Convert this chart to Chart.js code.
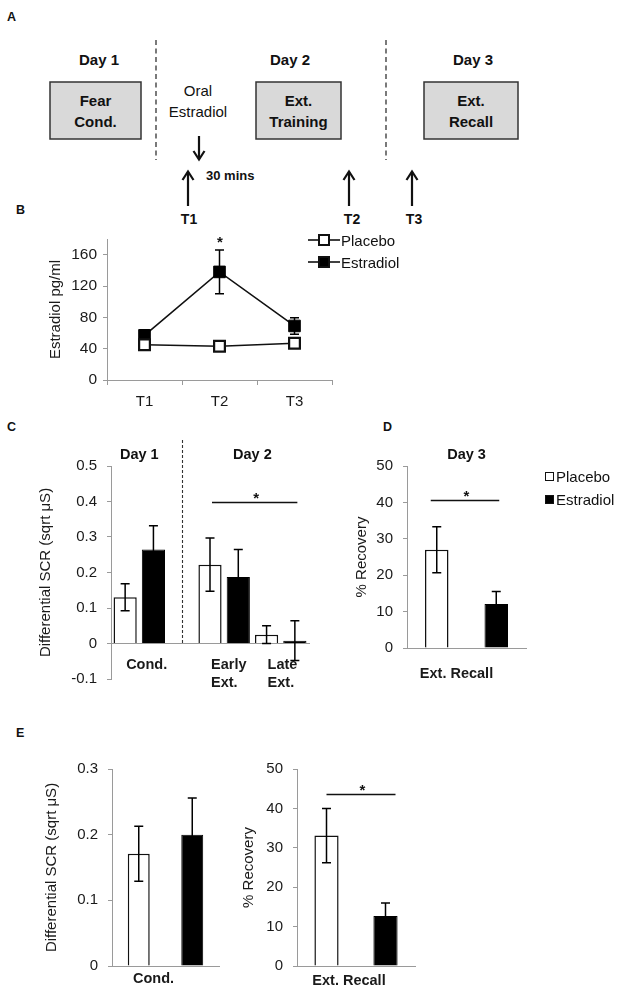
<!DOCTYPE html>
<html>
<head>
<meta charset="utf-8">
<script src="https://cdn.jsdelivr.net/npm/chart.js@4.4.1/dist/chart.umd.min.js"></script>
<style>
html,body{margin:0;padding:0;background:#fff;}
body{width:620px;height:993px;position:relative;overflow:hidden;font-family:"Liberation Sans",Arial,sans-serif;color:#111;}
canvas{position:absolute;}
.plabel{position:absolute;font-weight:bold;font-size:12.5px;line-height:1;}
.leg{position:absolute;font-size:15px;display:flex;align-items:center;white-space:nowrap;height:18px;color:#111;}
</style>
</head>
<body>
<svg style="position:absolute;left:0;top:0" width="620" height="235" font-family="'Liberation Sans', Arial, sans-serif" fill="#111">
  <line x1="156" y1="40" x2="156" y2="160" stroke="#333" stroke-width="1.3" stroke-dasharray="5,3.5"/>
  <line x1="386" y1="40" x2="386" y2="160" stroke="#333" stroke-width="1.3" stroke-dasharray="5,3.5"/>
  <g font-weight="bold" font-size="15" text-anchor="middle">
    <text x="99" y="64.5">Day 1</text>
    <text x="290" y="64.5">Day 2</text>
    <text x="473" y="64.5">Day 3</text>
  </g>
  <rect x="50" y="82" width="91" height="57" fill="#d9d9d9" stroke="#333" stroke-width="1.5"/>
  <rect x="256" y="82" width="85" height="57" fill="#d9d9d9" stroke="#333" stroke-width="1.5"/>
  <rect x="424" y="82" width="94" height="57" fill="#d9d9d9" stroke="#333" stroke-width="1.5"/>
  <g font-weight="bold" font-size="15" text-anchor="middle">
    <text x="95.5" y="106">Fear</text><text x="95.5" y="127">Cond.</text>
    <text x="298.5" y="106">Ext.</text><text x="298.5" y="127">Training</text>
    <text x="471" y="106">Ext.</text><text x="471" y="127">Recall</text>
  </g>
  <g font-size="15" text-anchor="middle">
    <text x="198" y="96">Oral</text><text x="198" y="117">Estradiol</text>
  </g>
  <g stroke="#111" stroke-width="2.2" fill="none">
    <line x1="199" y1="136" x2="199" y2="159"/>
    <polyline points="193.5,151 199,159.5 204.5,151"/>
    <line x1="188" y1="206" x2="188" y2="172"/>
    <polyline points="182.5,180 188,171.5 193.5,180"/>
    <line x1="349" y1="206" x2="349" y2="172"/>
    <polyline points="343.5,180 349,171.5 354.5,180"/>
    <line x1="412" y1="206" x2="412" y2="172"/>
    <polyline points="406.5,180 412,171.5 417.5,180"/>
  </g>
  <text x="206" y="180" font-weight="bold" font-size="13">30 mins</text>
  <g font-weight="bold" font-size="14" text-anchor="middle">
    <text x="189" y="224">T1</text><text x="352" y="224">T2</text><text x="414" y="224">T3</text>
  </g>
</svg>

<div class="plabel" style="left:7px;top:11px;">A</div>
<div class="plabel" style="left:16px;top:204px;">B</div>
<div class="plabel" style="left:7px;top:421px;">C</div>
<div class="plabel" style="left:383px;top:421px;">D</div>
<div class="plabel" style="left:16px;top:727px;">E</div>

<canvas id="chartB" width="420" height="220" style="left:0;top:200px;"></canvas>
<canvas id="chartC" width="330" height="280" style="left:0;top:420px;"></canvas>
<canvas id="chartD" width="290" height="270" style="left:330px;top:420px;"></canvas>
<canvas id="chartE1" width="240" height="253" style="left:0;top:740px;"></canvas>
<canvas id="chartE2" width="200" height="253" style="left:240px;top:740px;"></canvas>

<div id="legendB"></div>
<div id="legendD"></div>

<script>
// ---------------- DATA ----------------
const seriesNames = ['Placebo', 'Estradiol'];

// Panel B: serum estradiol (pg/ml)
const timepointsB = ['T1', 'T2', 'T3'];
const placeboB = [45, 43, 47];
const estradiolB = [57, 138, 69];
const estradiolErrB = [7, 28, 10.5];
const yTicksB = [0, 40, 80, 120, 160];
const yTickLabelsB = ['0', '40', '80', '120', '160'];

// Panel C: differential SCR
const categoriesC = ['Cond.', 'Early Ext.', 'Late Ext.'];
const daysC = ['Day 1', 'Day 2', 'Day 2'];
const placeboC = [0.13, 0.222, 0.025];
const placeboErrC = [0.038, 0.075, 0.025];
const estradiolC = [0.265, 0.187, 0.008];
const estradiolErrC = [0.067, 0.078, 0.056];
const yTicksC = [-0.1, 0, 0.1, 0.2, 0.3, 0.4, 0.5];
const yTickLabelsC = ['-0.1', '0', '0.1', '0.2', '0.3', '0.4', '0.5'];

// Panel D: % recovery, Day 3
const categoriesD = ['Ext. Recall'];
const placeboD = [27];
const placeboErrD = [6.3];
const estradiolD = [12.1];
const estradiolErrD = [3.4];
const yTicksD = [0, 10, 20, 30, 40, 50];
const yTickLabelsD = ['0', '10', '20', '30', '40', '50'];

// Panel E (left): differential SCR, conditioning
const categoriesE1 = ['Cond.'];
const placeboE1 = [0.171];
const placeboErrE1 = [0.042];
const estradiolE1 = [0.2];
const estradiolErrE1 = [0.056];
const yTicksE1 = [0, 0.1, 0.2, 0.3];
const yTickLabelsE1 = ['0', '0.1', '0.2', '0.3'];

// Panel E (right): % recovery
const categoriesE2 = ['Ext. Recall'];
const placeboE2 = [33.1];
const placeboErrE2 = [6.9];
const estradiolE2 = [12.7];
const estradiolErrE2 = [3.3];
const yTicksE2 = [0, 10, 20, 30, 40, 50];
const yTickLabelsE2 = ['0', '10', '20', '30', '40', '50'];

// ---------------- STYLE / HELPERS ----------------
const AX = '#9a9a9a';
const TXT = '#1a1a1a';
const INK = '#000';
Chart.defaults.font.family = "'Liberation Sans', Arial, Helvetica, sans-serif";
Chart.defaults.color = TXT;

function drawErr(chart, o) {
  const ctx = chart.ctx, ys = chart.scales.y;
  chart.data.datasets.forEach((ds, di) => {
    if (!ds.errors) return;
    const meta = chart.getDatasetMeta(di);
    meta.data.forEach((el, i) => {
      const v = ds.data[i], e = ds.errors[i];
      if (v == null || e == null) return;
      const x = el.x, t = ys.getPixelForValue(v + e), b = ys.getPixelForValue(v - e), c = 4.5;
      ctx.save();
      ctx.strokeStyle = INK; ctx.lineWidth = 1.5;
      ctx.beginPath();
      ctx.moveTo(x, t); ctx.lineTo(x, b);
      ctx.moveTo(x - c, t); ctx.lineTo(x + c, t);
      ctx.moveTo(x - c, b); ctx.lineTo(x + c, b);
      ctx.stroke();
      ctx.restore();
    });
  });
}
const errorBars = {
  id: 'errorBars',
  beforeDatasetsDraw(chart, args, o) { if (o.behind) drawErr(chart, o); },
  afterDatasetsDraw(chart, args, o) { if (!o.behind) drawErr(chart, o); }
};

function barX(chart, series, cat) {
  const di = chart.data.datasets.findIndex(d => d.label === series);
  const ds = chart.data.datasets[di];
  const idx = ds.cats.findIndex((c, i) => c === cat && ds.data[i] != null);
  return chart.getDatasetMeta(di).data[idx].x;
}
function makeSig(sig) {
  return {
    id: 'sigBar',
    afterDatasetsDraw(chart) {
      const ctx = chart.ctx, ys = chart.scales.y;
      const x1 = barX(chart, sig.from[1], sig.from[0]) + sig.padL;
      const x2 = barX(chart, sig.to[1], sig.to[0]) + sig.padR;
      const y = Math.round(ys.getPixelForValue(sig.level)) + 0.5;
      ctx.save();
      ctx.strokeStyle = '#111'; ctx.lineWidth = 1.6;
      ctx.beginPath(); ctx.moveTo(x1, y); ctx.lineTo(x2, y); ctx.stroke();
      ctx.fillStyle = '#111';
      ctx.font = "bold 15px 'Liberation Sans', Arial, sans-serif";
      ctx.textAlign = 'center'; ctx.textBaseline = 'alphabetic';
      ctx.fillText('*', (x1 + x2) / 2 + 1.5, y + 0.5);
      ctx.restore();
    }
  };
}
function makeHeads(groups, divider) {
  return {
    id: 'heads',
    afterDraw(chart) {
      const ctx = chart.ctx, ca = chart.chartArea;
      ctx.save();
      ctx.fillStyle = '#111';
      ctx.font = "bold 14.5px 'Liberation Sans', Arial, sans-serif";
      ctx.textAlign = 'center'; ctx.textBaseline = 'middle';
      groups.forEach(g => {
        const xs = g.xs(chart);
        ctx.fillText(g.text, (Math.min(...xs) + Math.max(...xs)) / 2, ca.top - 11);
      });
      if (divider) {
        const x = Math.round(divider(chart)) + 0.5;
        ctx.strokeStyle = '#333'; ctx.lineWidth = 1.1; ctx.setLineDash([3, 2]);
        ctx.beginPath(); ctx.moveTo(x, ca.top - 26); ctx.lineTo(x, chart.scales.y.getPixelForValue(0)); ctx.stroke();
      }
      ctx.restore();
    }
  };
}

function yAxis(ticks, labels, min, max, title, titlePad, width, pad, fs) {
  return {
    min: min, max: max,
    afterFit: s => { s.width = width; },
    afterBuildTicks: s => { s.ticks = ticks.map(v => ({ value: v })); },
    ticks: { color: TXT, font: { size: fs || 15 }, padding: pad, callback: (v, i) => labels[i] },
    grid: { drawOnChartArea: false, tickLength: 4, tickColor: AX, color: AX },
    border: { color: AX, width: 1 },
    title: { display: true, text: title, color: TXT, font: { size: 15 }, padding: { top: titlePad, bottom: 0 } }
  };
}
function xCat(height, pad, labelOffset) {
  return {
    type: 'category', offset: true,
    afterFit: s => { s.height = height; },
    grid: { drawOnChartArea: false, drawTicks: false, color: AX },
    border: { color: AX, width: 1 },
    ticks: { color: TXT, font: { size: 14.5, weight: 'bold' }, padding: pad, labelOffset: labelOffset, autoSkip: false, maxRotation: 0 }
  };
}
const whiteBar = { backgroundColor: '#ffffff', borderColor: '#111', borderWidth: 1.5 };
const blackBar = { backgroundColor: '#000', borderColor: '#000', borderWidth: 1 };
const baseOpts = { responsive: false, animation: false, devicePixelRatio: 1, events: [] };

// ---------------- PANEL B ----------------
const chartB = new Chart(document.getElementById('chartB'), {
  type: 'line',
  data: {
    labels: timepointsB,
    datasets: [
      { label: seriesNames[0], data: placeboB, borderColor: '#111', borderWidth: 1.6, tension: 0,
        pointStyle: 'rect', pointRadius: 7.6, pointBackgroundColor: '#fff', pointBorderColor: '#111', pointBorderWidth: 2.2 },
      { label: seriesNames[1], data: estradiolB, errors: estradiolErrB, borderColor: '#111', borderWidth: 1.6, tension: 0,
        pointStyle: 'rect', pointRadius: 8.2, pointBackgroundColor: '#000', pointBorderColor: '#000', pointBorderWidth: 1 }
    ]
  },
  options: Object.assign({}, baseOpts, {
    layout: { padding: { top: 39, right: 88, bottom: 0, left: 0 } },
    scales: {
      x: {
        type: 'category', offset: true,
        afterFit: s => { s.height = 40; },
        grid: { offset: true, drawOnChartArea: false, drawTicks: true, tickLength: 5, color: AX, tickColor: AX },
        border: { color: AX, width: 1 },
        ticks: { color: TXT, font: { size: 15 }, padding: 8 }
      },
      y: yAxis(yTicksB, yTickLabelsB, 0, 180, 'Estradiol pg/ml', 47, 107, 6, 15.5)
    },
    plugins: { legend: { display: false }, tooltip: { enabled: false }, errorBars: { behind: true } }
  }),
  plugins: [errorBars, {
    id: 'starB',
    afterDatasetsDraw(chart) {
      const ds = chart.data.datasets[1];
      const ctx = chart.ctx, ys = chart.scales.y;
      let k = 0;
      ds.data.forEach((v, i) => { if (v > ds.data[k]) k = i; });
      const x = chart.getDatasetMeta(1).data[k].x;
      const y = ys.getPixelForValue(ds.data[k] + ds.errors[k]);
      ctx.save(); ctx.fillStyle = '#111';
      ctx.font = "bold 15px 'Liberation Sans', Arial, sans-serif";
      ctx.textAlign = 'center'; ctx.textBaseline = 'alphabetic';
      ctx.fillText('*', x + 0.5, y - 2.5);
      ctx.restore();
    }
  }]
});

// HTML legend for B built from datasets
(function () {
  const host = document.getElementById('legendB');
  chartB.data.datasets.forEach((ds, i) => {
    const row = document.createElement('div');
    row.className = 'leg';
    row.style.left = '308px';
    row.style.top = (231 + i * 22) + 'px';
    const fill = ds.pointBackgroundColor;
    row.innerHTML = '<svg width="32" height="14" style="display:block"><line x1="0" y1="7" x2="32" y2="7" stroke="#111" stroke-width="1.6"/>' +
      '<rect x="11" y="2" width="10" height="10" fill="' + fill + '" stroke="#111" stroke-width="2"/></svg>' +
      '<span style="margin-left:1px">' + ds.label + '</span>';
    host.appendChild(row);
  });
})();

// ---------------- PANEL C ----------------
const slotsC = [];
categoriesC.forEach((c, i) => {
  if (i > 0 && daysC[i] !== daysC[i - 1]) slotsC.push({ cat: null, series: null, i: -1 });
  seriesNames.forEach(s => slotsC.push({ cat: c, series: s, i: i }));
});
const slotLabelsC = slotsC.map((s, k) => s.cat ? s.cat + ' | ' + s.series : 'gap' + k);
const slotVals = (vals, series) => slotsC.map(s => s.series === series ? vals[s.i] : null);
const gapIndexC = slotsC.findIndex(s => s.cat === null);

new Chart(document.getElementById('chartC'), {
  type: 'bar',
  data: {
    labels: slotLabelsC,
    datasets: [
      Object.assign({ label: seriesNames[0], data: slotVals(placeboC, 'Placebo'), errors: slotVals(placeboErrC, 'Placebo'),
        cats: slotsC.map(s => s.cat) }, whiteBar),
      Object.assign({ label: seriesNames[1], data: slotVals(estradiolC, 'Estradiol'), errors: slotVals(estradiolErrC, 'Estradiol'),
        cats: slotsC.map(s => s.cat) }, blackBar)
    ]
  },
  options: Object.assign({}, baseOpts, {
    layout: { padding: { top: 46, right: 21, bottom: 21, left: 0 } },
    datasets: { bar: { grouped: false, categoryPercentage: 1, barPercentage: 0.82 } },
    scales: {
      x: Object.assign(xCat(0, 13, 0), {
        position: { y: 0 },
        ticks: { color: TXT, font: { size: 14.5, weight: 'bold' }, padding: 13, align: 'start', labelOffset: 1, autoSkip: false, maxRotation: 0,
          callback: (v, i) => slotsC[i].series === seriesNames[0] ? slotsC[i].cat.split(' ') : '' }
      }),
      y: yAxis(yTicksC, yTickLabelsC, -0.1, 0.5, 'Differential SCR (sqrt μS)', 37, 111, 10)
    },
    plugins: { legend: { display: false }, tooltip: { enabled: false }, errorBars: { behind: false } }
  }),
  plugins: [errorBars,
    makeSig({ from: ['Early Ext.', 'Placebo'], to: ['Late Ext.', 'Estradiol'], level: 0.4, padL: 2, padR: 2.5 }),
    makeHeads(
      [...new Set(daysC)].map(d => ({
        text: d,
        xs: chart => slotsC.map((s, k) => (s.cat && daysC[s.i] === d) ? chart.scales.x.getPixelForValue(k) : null).filter(v => v != null)
      })),
      chart => chart.scales.x.getPixelForValue(gapIndexC)
    )]
});

// ---------------- PANEL D ----------------
new Chart(document.getElementById('chartD'), {
  type: 'bar',
  data: {
    labels: categoriesD,
    datasets: [
      Object.assign({ label: seriesNames[0], data: placeboD, errors: placeboErrD, cats: categoriesD }, whiteBar),
      Object.assign({ label: seriesNames[1], data: estradiolD, errors: estradiolErrD, cats: categoriesD }, blackBar)
    ]
  },
  options: Object.assign({}, baseOpts, {
    layout: { padding: { top: 46, right: 94, bottom: 0, left: 0 } },
    datasets: { bar: { categoryPercentage: 1, barPercentage: 0.395 } },
    scales: {
      x: xCat(42, 17, -10),
      y: yAxis(yTicksD, yTickLabelsD, 0, 50, '% Recovery', 23, 77, 10)
    },
    plugins: { legend: { display: false }, tooltip: { enabled: false }, errorBars: { behind: false } }
  }),
  plugins: [errorBars,
    makeSig({ from: ['Ext. Recall', 'Placebo'], to: ['Ext. Recall', 'Estradiol'], level: 40.6, padL: -6, padR: 3 }),
    makeHeads([{ text: 'Day 3', xs: chart => [chart.scales.x.getPixelForValue(0)] }], null)]
});

// HTML legend for D
(function () {
  const host = document.getElementById('legendD');
  [{ t: seriesNames[0], f: '#fff' }, { t: seriesNames[1], f: '#000' }].forEach((it, i) => {
    const row = document.createElement('div');
    row.className = 'leg';
    row.style.left = '545px';
    row.style.top = (467 + i * 23) + 'px';
    row.innerHTML = '<svg width="9" height="9" style="display:block"><rect x="0.5" y="0.5" width="8" height="8" fill="' + it.f + '" stroke="#111" stroke-width="1"/></svg>' +
      '<span style="margin-left:2px">' + it.t + '</span>';
    host.appendChild(row);
  });
})();

// ---------------- PANEL E (left) ----------------
new Chart(document.getElementById('chartE1'), {
  type: 'bar',
  data: {
    labels: categoriesE1,
    datasets: [
      Object.assign({ label: seriesNames[0], data: placeboE1, errors: placeboErrE1, cats: categoriesE1 }, whiteBar),
      Object.assign({ label: seriesNames[1], data: estradiolE1, errors: estradiolErrE1, cats: categoriesE1 }, blackBar)
    ]
  },
  options: Object.assign({}, baseOpts, {
    layout: { padding: { top: 29, right: 21, bottom: 0, left: 0 } },
    datasets: { bar: { categoryPercentage: 1, barPercentage: 0.41 } },
    scales: {
      x: xCat(27, 4, -12),
      y: yAxis(yTicksE1, yTickLabelsE1, 0, 0.3, 'Differential SCR (sqrt μS)', 43, 112, 10)
    },
    plugins: { legend: { display: false }, tooltip: { enabled: false }, errorBars: { behind: false } }
  }),
  plugins: [errorBars]
});

// ---------------- PANEL E (right) ----------------
new Chart(document.getElementById('chartE2'), {
  type: 'bar',
  data: {
    labels: categoriesE2,
    datasets: [
      Object.assign({ label: seriesNames[0], data: placeboE2, errors: placeboErrE2, cats: categoriesE2 }, whiteBar),
      Object.assign({ label: seriesNames[1], data: estradiolE2, errors: estradiolErrE2, cats: categoriesE2 }, blackBar)
    ]
  },
  options: Object.assign({}, baseOpts, {
    layout: { padding: { top: 29, right: 25, bottom: 0, left: 0 } },
    datasets: { bar: { categoryPercentage: 1, barPercentage: 0.41 } },
    scales: {
      x: xCat(27, 6, -7),
      y: yAxis(yTicksE2, yTickLabelsE2, 0, 50, '% Recovery', 0, 57, 10)
    },
    plugins: { legend: { display: false }, tooltip: { enabled: false }, errorBars: { behind: false } }
  }),
  plugins: [errorBars,
    makeSig({ from: ['Ext. Recall', 'Placebo'], to: ['Ext. Recall', 'Estradiol'], level: 43.6, padL: 0, padR: 10 })]
});
</script>
</body>
</html>
